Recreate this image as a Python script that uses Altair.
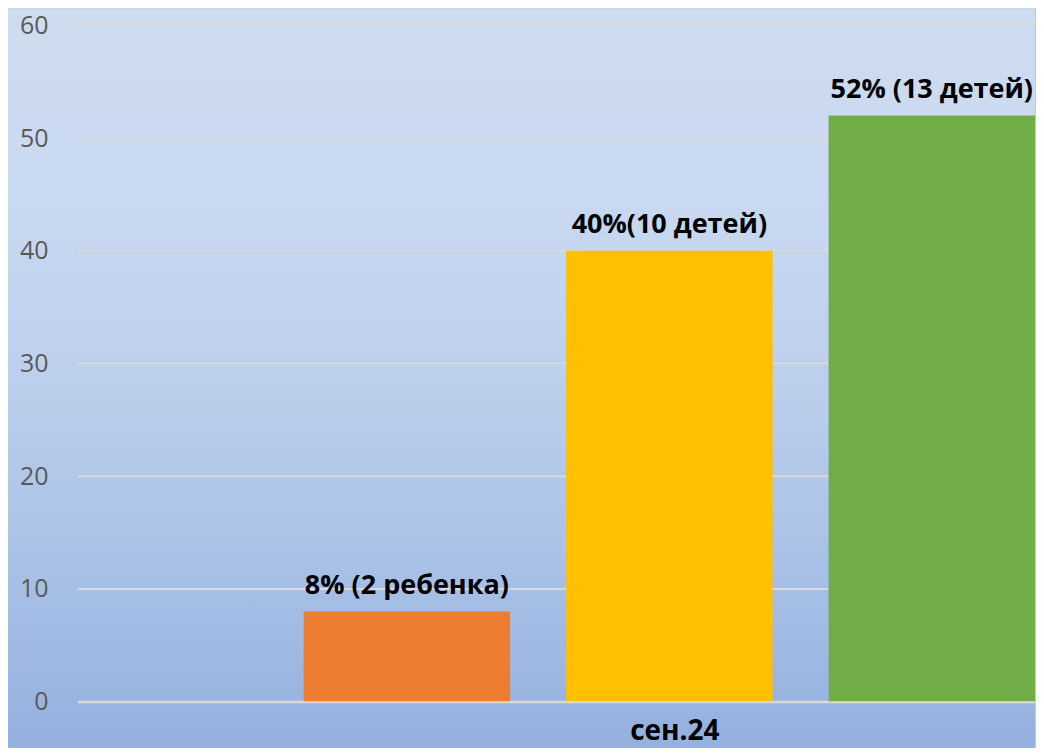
import altair as alt
import pandas as pd

# ---- data ----
month = "сен.24"
series = ["s1", "s2", "s3"]
values = [8, 40, 52]
labels = ["8% (2 ребенка)", "40%(10 детей)", "52% (13 детей)"]
colors = ["#ed7d31", "#ffc000", "#70ad47"]
y_ticks = [0, 10, 20, 30, 40, 50, 60]

W = 958
H = 677

df = pd.DataFrame({"series": series, "value": values, "label": labels})
grid_df = pd.DataFrame({"v": y_ticks})

x_scale = alt.Scale(domain=series, paddingInner=0.2137, paddingOuter=0.43, align=1)
y_scale = alt.Scale(domain=[0, 60], nice=False)

gradient = alt.LinearGradient(
    gradient="linear",
    stops=[
        alt.GradientStop(color="#cedcef", offset=0),
        alt.GradientStop(color="#c9d9f1", offset=0.25),
        alt.GradientStop(color="#bccfec", offset=0.5),
        alt.GradientStop(color="#a9c1e6", offset=0.75),
        alt.GradientStop(color="#95b0df", offset=1),
    ],
    x1=0, x2=0, y1=0, y2=1,
)

bg = alt.Chart(alt.Data(values=[{"a": 1}])).mark_rect(fill=gradient).encode(
    x=alt.value(-70), x2=alt.value(W), y=alt.value(-17), y2=alt.value(H + 46)
)

grid = alt.Chart(grid_df).mark_rule(color="#d9d9d9", strokeWidth=2).encode(
    y=alt.Y("v:Q", scale=y_scale,
            axis=alt.Axis(values=y_ticks, grid=False, ticks=False, domain=False,
                          labelFontSize=25, labelColor="#595959", labelFont="Open Sans",
                          labelPadding=30, title=None, zindex=1))
)

bars = alt.Chart(df).mark_bar().encode(
    x=alt.X("series:N", scale=x_scale,
            axis=alt.Axis(labels=False, ticks=False, domain=True, domainColor="#d9d9d9",
                          domainWidth=2, grid=False,
                          title=month, titleX=597, titleY=38, titleAlign="center",
                          titleBaseline="alphabetic", titleFontSize=28,
                          titleFont="Open Sans", titleFontWeight="bold",
                          titleColor="#000000", zindex=1)),
    y=alt.Y("value:Q", scale=y_scale),
    color=alt.Color("series:N", scale=alt.Scale(domain=series, range=colors), legend=None),
)

text = alt.Chart(df).mark_text(
    font="Open Sans", fontWeight="bold", fontSize=27, color="#000000",
    baseline="alphabetic", dy=-18
).encode(
    x=alt.X("series:N", scale=x_scale),
    y=alt.Y("value:Q", scale=y_scale),
    text="label:N",
)

chart = alt.layer(bg, grid, bars, text).properties(
    width=W, height=H, padding=0, background="#b9cdeb"
).configure_view(stroke=None)

chart.save("out.html", embed_options={"renderer": "svg", "actions": False})
